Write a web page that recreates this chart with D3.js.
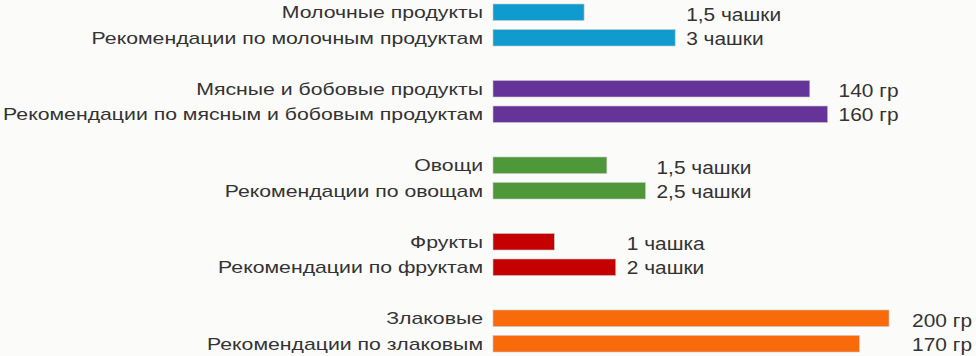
<!DOCTYPE html>
<html>
<head>
<meta charset="utf-8">
<script src="https://cdn.jsdelivr.net/npm/d3@7"></script>
<style>
  html, body { margin: 0; padding: 0; background: #fbfbfa; }
  svg { display: block; }
  text { font-family: "Liberation Sans", Arial, sans-serif; fill: #333; }
  text.cat { font-size: 17px; }
  text.val { font-size: 18.5px; }
</style>
</head>
<body>
<svg id="chart" width="976" height="356"></svg>
<script>
// ---- data ----
const groups = ["dairy", "meat", "veg", "fruit", "grain"];
const colors = ["#0f9bcd", "#663399", "#4e983a", "#c40000", "#f96a0a"];
const categoryLabels = [
  "Молочные продукты", "Рекомендации по молочным продуктам",
  "Мясные и бобовые продукты", "Рекомендации по мясным и бобовым продуктам",
  "Овощи", "Рекомендации по овощам",
  "Фрукты", "Рекомендации по фруктам",
  "Злаковые", "Рекомендации по злаковым"
];
// bar lengths as drawn (relative units, grains 200 = longest)
const barLengths = [46, 92, 160, 169, 57.5, 77, 31, 62, 200, 185];
const valueLabels = [
  "1,5 чашки", "3 чашки",
  "140 гр", "160 гр",
  "1,5 чашки", "2,5 чашки",
  "1 чашка", "2 чашки",
  "200 гр", "170 гр"
];

// ---- layout ----
const W = 976, H = 356;
const x0 = 493;
const catStretch = 1.25, valStretch = 1.13;
const svg = d3.select("#chart");

const x = d3.scaleLinear().domain([0, 200]).range([x0, x0 + 396]);

// 3 slots per group (bar, bar, gap); last gap dropped
const nSlots = groups.length * 3 - 1;
const pad = 9 / 25.5;
const y = d3.scaleBand()
  .domain(d3.range(nSlots))
  .range([4, 4 + 25.5 * (nSlots - pad)])
  .paddingInner(pad)
  .paddingOuter(0);

const rows = categoryLabels.map((lab, i) => {
  const g = Math.floor(i / 2), j = i % 2;
  return { lab, g, j, slot: g * 3 + j, len: barLengths[i], val: valueLabels[i], color: colors[g] };
});

// bars
svg.selectAll("rect.bar").data(rows).enter().append("rect")
  .attr("class", "bar")
  .attr("x", x(0))
  .attr("y", d => y(d.slot))
  .attr("width", d => x(d.len) - x(0))
  .attr("height", y.bandwidth())
  .attr("fill", d => d.color)
  .attr("stroke", "#c8c8c8")
  .attr("stroke-width", 0.6);

// category labels
svg.selectAll("text.cat").data(rows).enter().append("text")
  .attr("class", "cat")
  .attr("transform", d => `translate(${x0 - 10},${y(d.slot) + 14}) scale(${catStretch},1)`)
  .attr("text-anchor", "end")
  .text(d => d.lab);

// value labels: placed after longest bar of the group
const groupMax = groups.map((g, gi) => d3.max(rows.filter(r => r.g === gi), r => x(r.len)));
const nearEdge = gi => groupMax[gi] + 12 + 80 > W;
svg.selectAll("text.val").data(rows).enter().append("text")
  .attr("class", "val")
  .attr("transform", d => {
    const vx = nearEdge(d.g) ? W - 4 : groupMax[d.g] + 11;
    const vy = y(d.slot) + y.bandwidth() / 2 + (d.j === 0 ? 8.5 : 7);
    return `translate(${vx},${vy}) scale(${valStretch},1)`;
  })
  .attr("text-anchor", d => (nearEdge(d.g) ? "end" : "start"))
  .text(d => d.val);
</script>
</body>
</html>
